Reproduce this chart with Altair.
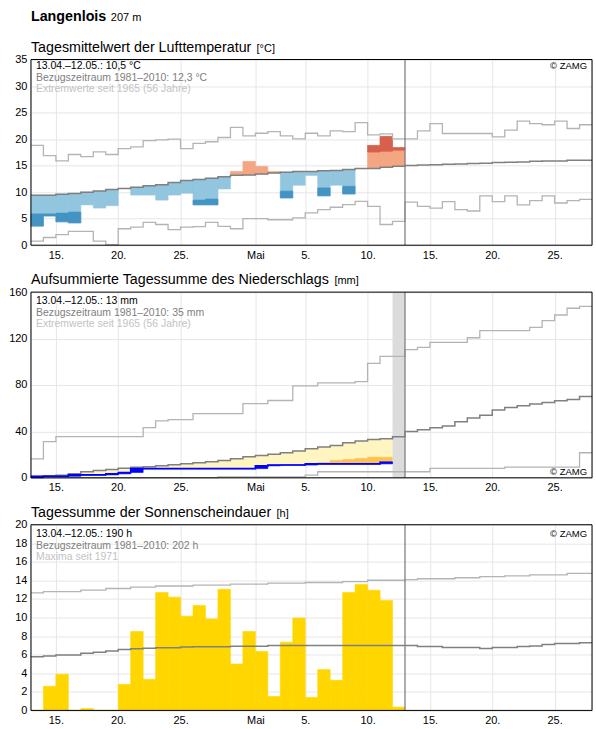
import altair as alt
import pandas as pd

# Day index 0 = 13 April; the axis runs to index 45 (28 May).
DAY_END = 45
TODAY = 30  # end of 12 May

tick_days = [2, 7, 12, 18, 22, 27, 32, 37, 42]
tick_labels = ["15.", "20.", "25.", "Mai", "5.", "10.", "15.", "20.", "25."]

# ---- Tagesmittel der Lufttemperatur (°C) ----
temp_obs = [3.6, 5.5, 4.4, 4.2, 7.6, 7.0, 7.45, 10.7, 9.45, 9.45,
            8.5, 9.45, 9.8, 7.6, 7.6, 10.6, 13.9, 15.8, 14.85, 13.9,
            8.9, 11.3, 13.15, 9.3, 11.3, 9.65, 14.45, 18.8, 20.5, 18.4]
# edge of the strongly deviating part (days where it shows)
temp_edge = [5.9, 5.9, 6.05, 6.25, None, None, None, None, None, None,
             None, None, None, 8.5, 8.7, None, None, None, None, None,
             10.2, None, None, 10.8, None, 11.1, None, 17.55, 17.7, 17.9]
temp_norm = [9.4, 9.4, 9.6, 9.75, 10.0, 10.2, 10.5, 10.7, 10.9, 11.2,
             11.4, 11.8, 12.2, 12.4, 12.6, 12.9, 13.2, 13.25, 13.4, 13.6,
             13.75, 13.9, 13.9, 14.05, 14.1, 14.25, 14.45, 14.45, 14.7, 14.9,
             15.0, 15.1, 15.15, 15.25, 15.3, 15.4, 15.45, 15.6, 15.65, 15.7,
             15.8, 15.85, 15.85, 16.0, 16.0]
temp_max = [18.8, 16.9, 15.9, 17.1, 16.7, 17.6, 17.1, 18.2, 18.55, 19.7,
            19.85, 20.0, 18.2, 19.2, 19.5, 20.3, 22.2, 20.6, 21.1, 21.4,
            20.6, 20.05, 21.1, 20.6, 21.55, 21.4, 23.1, 20.8, 21.0, 20.05,
            20.05, 21.55, 22.9, 21.05, 21.05, 21.05, 21.05, 20.4, 21.7, 23.4,
            22.9, 22.7, 23.4, 22.0, 22.7]
temp_min = [0.75, 1.45, 2.0, 2.6, 2.6, 0.75, 0.1, 3.1, 3.4, 4.3,
            3.9, 2.95, 3.4, 3.5, 4.3, 3.55, 3.1, 5.0, 5.0, 4.8,
            4.8, 5.15, 6.1, 6.7, 7.15, 7.65, 8.25, 7.3, 3.9, 4.5,
            8.1, 7.3, 7.0, 8.2, 6.7, 6.45, 9.3, 8.2, 9.3, 7.6,
            8.4, 9.3, 7.95, 8.4, 8.65]
temp_ticks = [0, 5, 10, 15, 20, 25, 30, 35]

# ---- aufsummierter Niederschlag (mm) ----
prec_obs = [1.3, 1.3, 1.3, 2.5, 2.5, 2.5, 3.4, 4.6, 7.9, 7.9,
            7.9, 7.9, 7.9, 7.9, 7.9, 7.9, 7.9, 7.9, 10.3, 11.0,
            11.0, 11.0, 12.0, 12.0, 12.0, 12.0, 12.0, 12.0, 13.4]
prec_low = [None, None, None, None, None, None, None, None, None, None,
            None, None, None, None, None, None, None, None, None, None,
            None, None, None, 13.2, 15.0, 15.8, 16.7, 17.8, 17.8]
prec_norm = [0.9, 1.8, 2.3, 3.4, 5.2, 6.3, 7.2, 8.3, 9.2, 9.6,
             10.4, 11.2, 12.1, 13.0, 13.9, 15.0, 16.4, 18.2, 19.3, 20.2,
             21.6, 23.0, 25.1, 26.5, 27.9, 30.2, 31.7, 33.1, 33.7, 35.4,
             39.8, 41.5, 43.2, 44.7, 48.4, 51.6, 53.9, 58.5, 60.5, 62.0,
             63.7, 64.8, 66.3, 67.4, 70.0]
prec_max = [16.4, 31.1, 35.4, 35.4, 35.4, 35.4, 35.4, 35.4, 35.4, 43.2,
            49.0, 50.1, 50.1, 55.3, 55.3, 55.3, 55.3, 64.0, 64.0, 66.6,
            66.6, 79.3, 79.3, 81.8, 81.8, 81.8, 82.8, 98.6, 104.6, 104.6,
            110.4, 112.4, 116.7, 116.7, 116.7, 120.7, 126.8, 126.8, 126.8, 126.8,
            129.7, 135.4, 140.3, 146.1, 147.8]
prec_min = [0, 0, 0, 0, 0, 0, 0, 0, 0, 0,
            0, 0, 0, 0, 0, 0.8, 0.8, 0.8, 0.8, 0.8,
            0.8, 0.8, 2.3, 5.2, 5.2, 5.2, 5.2, 5.2, 5.2, 5.2,
            5.2, 5.2, 8.1, 8.1, 8.1, 8.1, 8.1, 8.1, 9.2, 9.2,
            9.2, 9.2, 9.2, 9.2, 21.6]
prec_missing_day = 29
prec_ticks = [0, 40, 80, 120, 160]

# ---- Sonnenscheindauer (h) ----
sun_obs = [0, 2.6, 3.9, 0, 0.2, 0, 0, 2.8, 8.5, 3.35,
           12.7, 12.2, 10.15, 11.3, 9.85, 13.05, 5.0, 8.5, 6.35, 1.5,
           7.35, 9.95, 1.4, 4.4, 3.25, 12.7, 13.55, 12.95, 11.85, 0.35]
sun_norm = [5.79, 5.86, 5.97, 5.97, 6.15, 6.26, 6.4, 6.55, 6.65, 6.69,
            6.76, 6.76, 6.83, 6.87, 6.87, 6.87, 6.9, 6.9, 6.9, 7.0,
            7.0, 7.0, 7.0, 7.0, 7.0, 7.0, 7.0, 7.0, 7.0, 7.0,
            6.98, 6.88, 6.88, 6.77, 6.77, 6.77, 6.67, 6.77, 6.77, 6.88,
            6.95, 7.1, 7.2, 7.2, 7.3]
sun_max = [12.66, 12.8, 12.8, 12.8, 12.95, 12.95, 13.13, 13.13, 13.27, 13.27,
           13.4, 13.4, 13.4, 13.5, 13.5, 13.5, 13.6, 13.6, 13.6, 13.7,
           13.7, 13.7, 13.78, 13.78, 13.78, 13.88, 13.88, 14.02, 14.02, 14.02,
           14.08, 14.18, 14.18, 14.18, 14.29, 14.29, 14.4, 14.4, 14.5, 14.5,
           14.6, 14.6, 14.6, 14.75, 14.75]
sun_ticks = [0, 2, 4, 6, 8, 10, 12, 14, 16, 18, 20]

W, H = 562, 186
FONT = "Liberation Sans"
GRID = "#e6e6e6"
NORM_C = "#808080"
EXT_C = "#b4b4b4"

label_expr = "".join(
    f"datum.value === {d} ? '{l}' : " for d, l in zip(tick_days, tick_labels)
) + "''"


def x_enc(field="d"):
    return alt.X(
        f"{field}:Q",
        scale=alt.Scale(domain=[0, DAY_END], nice=False, zero=False),
        axis=alt.Axis(values=tick_days, labelExpr=label_expr, title=None,
                      ticks=False, domain=False, grid=True, gridColor=GRID,
                      labelFontSize=11, labelColor="#000", labelPadding=4,
                      labelFlush=False, labelFont=FONT, labelAngle=0),
    )


def y_enc(field, ticks):
    return alt.Y(
        f"{field}:Q",
        scale=alt.Scale(domain=[ticks[0], ticks[-1]], nice=False, zero=True),
        axis=alt.Axis(values=ticks, title=None, ticks=False, domain=False,
                      grid=True, gridColor=GRID, labelFontSize=11,
                      labelColor="#000", labelPadding=4, labelFlush=False,
                      labelFont=FONT),
    )


def step_line(vals, ticks, color, width):
    df = pd.DataFrame({"d": list(range(len(vals) + 1)),
                       "v": list(vals) + [vals[-1]]})
    return alt.Chart(df).mark_line(interpolate="step-after", color=color,
                                   strokeWidth=width).encode(
        x=x_enc(), y=y_enc("v", ticks))


def day_rects(lo, hi, colors, ticks):
    rows = [{"d": i, "d1": i + 1, "lo": a, "hi": b, "c": c}
            for i, (a, b, c) in enumerate(zip(lo, hi, colors))
            if a is not None and b is not None]
    df = pd.DataFrame(rows)
    # a thin outline in the fill colour closes the seams between adjacent days
    return alt.Chart(df).mark_rect(strokeWidth=0.6).encode(
        x=x_enc(), x2="d1:Q", y=y_enc("lo", ticks), y2="hi:Q",
        color=alt.Color("c:N", scale=None),
        stroke=alt.Stroke("c:N", scale=None))


def text(t, x, y, size=10.5, color="#000", align="left", weight="normal"):
    return alt.Chart(pd.DataFrame({"t": [t]})).mark_text(
        align=align, baseline="alphabetic", fontSize=size, color=color,
        font=FONT, fontWeight=weight).encode(
        text="t:N", x=alt.value(x), y=alt.value(y))


def today_rule(ticks):
    return alt.Chart(pd.DataFrame({"d": [TODAY]})).mark_rule(
        color=NORM_C, strokeWidth=1.3).encode(x=x_enc())


def frame():
    return alt.Chart(pd.DataFrame({"a": [0]})).mark_rect(
        fill="transparent", stroke="#000", strokeWidth=1).encode(
        x=alt.value(0), x2=alt.value(W), y=alt.value(0), y2=alt.value(H))


def info(lines, ys):
    cols = ["#000", "#808080", "#c3c3c3"]
    return [text(t, 5, y, color=c) for t, y, c in zip(lines, ys, cols)]


# ---------- Panel 1: temperature ----------
n = len(temp_obs)
light_cols = ["#92c5de" if o < m else "#f4a582" for o, m in zip(temp_obs, temp_norm[:n])]
dark_cols = ["#4393c3" if o < m else "#d6604d" for o, m in zip(temp_obs, temp_norm[:n])]
p1 = alt.layer(
    day_rects(temp_norm[:n], temp_obs, light_cols, temp_ticks),
    day_rects(temp_edge, temp_obs, dark_cols, temp_ticks),
    step_line(temp_max, temp_ticks, EXT_C, 1.3),
    step_line(temp_min, temp_ticks, EXT_C, 1.3),
    step_line(temp_norm, temp_ticks, NORM_C, 1.5),
    today_rule(temp_ticks),
    *info(["13.04.–12.05.: 10,5 °C", "Bezugszeitraum 1981–2010: 12,3 °C",
           "Extremwerte seit 1965 (56 Jahre)"], [9.5, 21.3, 33]),
    text("© ZAMG", W - 5, 10, size=9.5, align="right"),
    text("Langenlois", 0, -39, size=14.3, weight="bold"),
    text("207 m", 80, -39, size=11),
    text("Tagesmittelwert der Lufttemperatur", 0, -8, size=14.3),
    text("[°C]", 226, -8, size=11),
    # white guide fixing the outer margin of the page
    alt.Chart(pd.DataFrame({"a": [0]})).mark_rule(color="white", strokeWidth=1).encode(
        x=alt.value(-30), x2=alt.value(W), y=alt.value(-58), y2=alt.value(-58)),
    frame(),
).properties(width=W, height=H)

# ---------- Panel 2: precipitation ----------
m = len(prec_obs)
prev = [0] + prec_obs[:-1]
p2 = alt.layer(
    day_rects(prec_obs, [max(a, b) for a, b in zip(prec_obs, prec_norm[:m])],
              ["#fff5c0"] * m, prec_ticks),
    day_rects(prec_obs, prec_low, ["#ffc14d"] * m, prec_ticks),
    alt.Chart(pd.DataFrame({"d": [prec_missing_day], "d1": [prec_missing_day + 1]}))
    .mark_rect(color="#dcdcdc").encode(x=x_enc(), x2="d1:Q"),
    step_line(prec_max, prec_ticks, EXT_C, 1.3),
    step_line(prec_min, prec_ticks, EXT_C, 1.3),
    step_line(prec_norm, prec_ticks, NORM_C, 1.5),
    day_rects(prev, prec_obs, ["#0000ff"] * m, prec_ticks),
    step_line(prec_obs, prec_ticks, "#0000ff", 1.6),
    today_rule(prec_ticks),
    *info(["13.04.–12.05.: 13 mm", "Bezugszeitraum 1981–2010: 35 mm",
           "Extremwerte seit 1965 (56 Jahre)"], [12, 23.7, 35.4]),
    text("© ZAMG", W - 5, H - 2.5, size=9.5, align="right"),
    text("Aufsummierte Tagessumme des Niederschlags", 0, -8, size=14.3),
    text("[mm]", 304, -8, size=11),
    frame(),
).properties(width=W, height=H)

# ---------- Panel 3: sunshine ----------
k = len(sun_obs)
p3 = alt.layer(
    day_rects([0] * k, sun_obs, ["#ffd600"] * k, sun_ticks),
    step_line(sun_max, sun_ticks, EXT_C, 1.3),
    step_line(sun_norm, sun_ticks, NORM_C, 1.5),
    today_rule(sun_ticks),
    *info(["13.04.–12.05.: 190 h", "Bezugszeitraum 1981–2010: 202 h",
           "Maxima seit 1971"], [12.5, 24, 35.5]),
    text("© ZAMG", W - 5, 12, size=9.5, align="right"),
    text("Tagessumme der Sonnenscheindauer", 0, -8, size=14.3),
    text("[h]", 246, -8, size=11),
    frame(),
).properties(width=W, height=H)

chart = alt.vconcat(p1, p2, p3, spacing=47, bounds="flush").properties(
    padding=0
).configure_view(stroke="transparent", strokeWidth=0).configure(font=FONT)

chart.save("out.html", embed_options={"renderer": "svg", "actions": False})
